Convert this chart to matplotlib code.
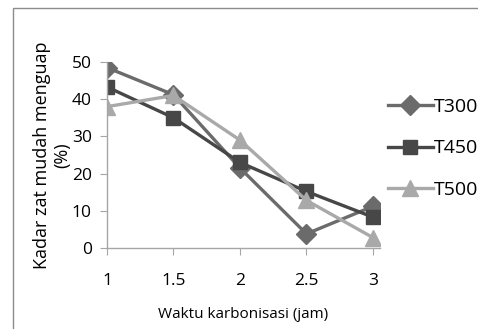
import matplotlib
matplotlib.use("Agg")
import matplotlib.pyplot as plt
from matplotlib.patches import Rectangle

x = [1, 1.5, 2, 2.5, 3]
t300 = [48.5, 41.2, 21.5, 3.8, 11.2]
t450 = [43.3, 35.0, 23.0, 15.2, 8.3]
t500 = [38.0, 41.0, 29.0, 12.8, 2.8]
labels = ["T300", "T450", "T500"]
xticks = [1, 1.5, 2, 2.5, 3]
xticklabels = ["1", "1.5", "2", "2.5", "3"]
yticks = [0, 10, 20, 30, 40, 50]

plt.rcParams['font.family'] = ['Open Sans', 'DejaVu Sans']

W, H = 478, 329
fig = plt.figure(figsize=(W/100, H/100), dpi=100)
fig.patch.set_facecolor('white')

# outer chart border (left & top visible)
fig.add_artist(Rectangle((13/W, -0.1), 1.2, (H-8)/H + 0.1, transform=fig.transFigure,
                         fill=False, edgecolor='#8c8c8c', linewidth=1.0))

ax = fig.add_axes([107/W, (H-248)/H, (380-107)/W, (248-62)/H])
ax.set_xlim(1, 3.053)
ax.set_ylim(0, 50)

ax.plot(x, t300, color='#6b6b6b', lw=2.4, marker='D', ms=10, label=labels[0])
ax.plot(x, t450, color='#474747', lw=2.4, marker='s', ms=10.5, label=labels[1])
ax.plot(x, t500, color='#a9a9a9', lw=2.4, marker='^', ms=12, label=labels[2])

for s in ['top', 'right']:
    ax.spines[s].set_visible(False)
for s in ['left', 'bottom']:
    ax.spines[s].set_color('#a6a6a6')
    ax.spines[s].set_linewidth(1.0)
ax.set_xticks(xticks)
ax.set_xticklabels(xticklabels)
ax.set_yticks(yticks)
ax.tick_params(axis='both', colors='#a6a6a6', labelcolor='black', labelsize=12.5,
               length=5, direction='out')
ax.tick_params(axis='x', pad=13)
ax.tick_params(axis='y', pad=6)

ax.set_xlabel("Waktu karbonisasi (jam)", fontsize=11, labelpad=13)
ax.set_ylabel("Kadar zat mudah menguap\n(%)", fontsize=13, labelpad=0, linespacing=1.2)

leg = ax.legend(loc='upper left', bbox_to_anchor=(388/W, (H-98)/H), bbox_transform=fig.transFigure,
                frameon=False, fontsize=14, handlelength=2.3, handletextpad=0.05,
                labelspacing=1.2, borderaxespad=0, borderpad=0)

fig.savefig("out.png", dpi=100)
